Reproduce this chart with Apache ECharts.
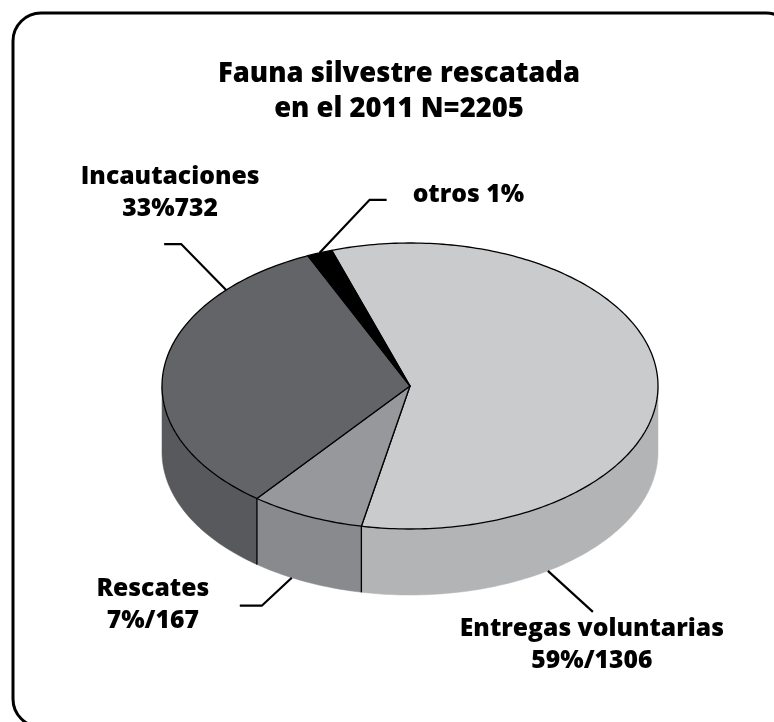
<!DOCTYPE html>
<html>
<head>
<meta charset="utf-8">
<style>
html, body { margin: 0; padding: 0; background: #fff; }
#chart { width: 774px; height: 722px; }
</style>
<script src="https://cdn.jsdelivr.net/npm/echarts@6/dist/echarts.min.js"></script>
</head>
<body>
<div id="chart"></div>
<script>
var titleText = 'Fauna silvestre rescatada\nen el 2011 N=2205';
var categories = ['Entregas voluntarias', 'Rescates', 'Incautaciones', 'otros'];
var values = [1306, 167, 732, 37];
var labelTexts = ['Entregas voluntarias\n59%/1306', 'Rescates\n7%/167', 'Incautaciones\n33%732', 'otros 1%'];
var topColors = ['#cacbcd', '#97989b', '#636468', '#000000'];
var sideColors = ['#b3b4b6', '#898a8d', '#58595c', '#000000'];

// flattened pie geometry
var cx = 410, cy = 386, rx = 248, ry = 143, depth = 66;
var startAngle = 108.4;
var FONT = '"Open Sans", Lato, sans-serif';

// leader line: where it leaves the slice (fraction of the slice, top rim or wall bottom),
// its bend, the horizontal tail, and the label offset from the line's end
var labelLayout = [
	{ at: 0.785, bottom: true, bend: [45, 41], tail: 0, dx: -1, dy: 33, align: 'center' },
	{ at: 0.64, bottom: true, bend: [-30, 28], tail: -22, dx: -87, dy: -1, align: 'center' },
	{ at: 0.80, bottom: false, bend: [-45, -46], tail: -17, dx: 6, dy: -51, align: 'center' },
	{ at: 0.5, bottom: false, bend: [50, -53], tail: 17, dx: 26, dy: -5, align: 'left' }
];

var total = values.reduce(function (a, b) { return a + b; }, 0);
var acc = startAngle;
var sliceData = values.map(function (v) {
	var s = acc;
	acc -= v / total * 360;
	return [v, s, acc];
});

function pt(theta, dy) {
	var r = theta * Math.PI / 180;
	return [cx + rx * Math.cos(r), cy - ry * Math.sin(r) + (dy || 0)];
}

function rim(from, to, dy) {
	var pts = [];
	var step = from > to ? -1 : 1;
	for (var t = from; (step < 0 ? t > to : t < to); t += step) pts.push(pt(t, dy));
	pts.push(pt(to, dy));
	return pts;
}

function renderItem(params, api) {
	var i = params.dataIndex;
	var s = api.value(1), e = api.value(2);
	var children = [];

	// side wall, only the part that faces the viewer
	for (var k = -2; k <= 1; k++) {
		var lo = Math.max(e, -180 + 360 * k), hi = Math.min(s, 360 * k);
		if (hi > lo) {
			children.push({
				type: 'polygon',
				shape: { points: rim(hi, lo, 0).concat(rim(lo, hi, depth)) },
				style: { fill: sideColors[i], stroke: sideColors[i], lineWidth: 0.5 }
			});
		}
	}
	if (Math.sin(s * Math.PI / 180) < 0) {
		children.push({
			type: 'line',
			shape: { x1: pt(s)[0], y1: pt(s)[1], x2: pt(s, depth)[0], y2: pt(s, depth)[1] },
			style: { stroke: '#000', lineWidth: 1.3 },
			z2: 5
		});
	}

	// top face
	children.push({
		type: 'polygon',
		shape: { points: [[cx, cy]].concat(rim(s, e, 0)) },
		style: { fill: topColors[i], stroke: '#000', lineWidth: 1.3, lineJoin: 'round' },
		z2: 4
	});

	// leader line and label
	var L = labelLayout[i];
	var a = s + (e - s) * L.at;
	var p0 = pt(a, L.bottom ? depth : 0);
	var p1 = [p0[0] + L.bend[0], p0[1] + L.bend[1]];
	var p2 = [p1[0] + L.tail, p1[1]];
	children.push({
		type: 'polyline',
		shape: { points: [p0, p1, p2] },
		style: { stroke: '#000', lineWidth: 2.2, fill: null },
		z2: 10
	});
	children.push({
		type: 'text',
		style: {
			text: labelTexts[i],
			x: p2[0] + L.dx,
			y: p2[1] + L.dy,
			align: L.align,
			verticalAlign: 'middle',
			fill: '#000',
			font: '800 24.7px ' + FONT,
			lineHeight: 32
		},
		z2: 10
	});

	return { type: 'group', children: children };
}

var chart = echarts.init(document.getElementById('chart'));
chart.setOption({
	animation: false,
	graphic: [
		{
			type: 'rect',
			z: -10,
			shape: { x: 13, y: 13, width: 781, height: 714, r: 28 },
			style: { fill: '#fff', stroke: '#000', lineWidth: 3 }
		},
		{
			type: 'text',
			z: 10,
			x: 399,
			y: 92,
			style: {
				text: titleText,
				align: 'center',
				verticalAlign: 'middle',
				fill: '#000',
				font: '800 27.4px ' + FONT,
				lineHeight: 35
			}
		}
	],
	series: [{
		type: 'custom',
		name: 'Fauna silvestre rescatada',
		coordinateSystem: 'none',
		renderItem: renderItem,
		data: sliceData.map(function (d, i) {
			return { name: categories[i], value: d };
		})
	}]
});
</script>
</body>
</html>
